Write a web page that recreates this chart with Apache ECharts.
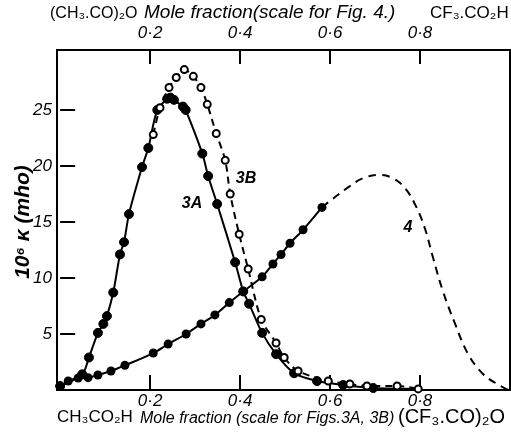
<!DOCTYPE html>
<html>
<head>
<meta charset="utf-8">
<script src="https://cdn.jsdelivr.net/npm/echarts@6/dist/echarts.min.js"></script>
<style>
html, body { margin: 0; padding: 0; background: #fff; }
#chart { width: 511px; height: 432px; }
</style>
</head>
<body>
<div id="chart"></div>
<script>
// mole fraction ticks and conductivity ticks
var xTicks = [0.2, 0.4, 0.6, 0.8];
var yTicks = [5, 10, 15, 20, 25];

// curve 3A (filled dots, solid line)
var x3A = [0.0, 0.049, 0.064, 0.084, 0.096, 0.104, 0.118, 0.133, 0.142, 0.153, 0.182, 0.196, 0.216, 0.238, 0.245, 0.253, 0.273, 0.279, 0.316, 0.329, 0.349, 0.389, 0.407, 0.42, 0.449, 0.48, 0.52, 0.571, 0.629, 0.696];
var y3A = [0.35, 1.4, 2.9, 5.1, 5.9, 6.6, 8.7, 12.1, 13.2, 15.7, 19.9, 21.6, 25.0, 26.0, 26.1, 25.9, 25.3, 25.0, 21.1, 19.1, 16.6, 11.4, 8.8, 7.7, 5.1, 3.2, 1.5, 0.8, 0.45, 0.18];
var end3A = [0.8, 0.1];

// curve 3B (open circles, dashed line)
var x3B = [0.207, 0.222, 0.242, 0.258, 0.276, 0.296, 0.313, 0.327, 0.347, 0.367, 0.378, 0.398, 0.418, 0.447, 0.48, 0.498, 0.529, 0.596, 0.644, 0.682, 0.749, 0.796];
var y3B = [22.8, 25.2, 27.0, 27.9, 28.6, 28.0, 27.0, 25.5, 22.9, 20.5, 17.5, 13.9, 10.8, 6.3, 4.2, 2.9, 1.7, 0.8, 0.54, 0.36, 0.36, 0.1];

// curve 4 measured part (filled dots)
var x4 = [0.0, 0.018, 0.04, 0.062, 0.084, 0.113, 0.144, 0.207, 0.24, 0.28, 0.313, 0.344, 0.376, 0.407, 0.449, 0.473, 0.491, 0.511, 0.54, 0.582];
var y4 = [0.35, 0.8, 1.07, 1.1, 1.34, 1.7, 2.2, 3.3, 4.1, 5.0, 5.9, 6.7, 7.8, 8.8, 10.1, 11.25, 12.1, 13.1, 14.3, 16.3];

// curve 4 dashed continuation
var x4d = [0.582, 0.607, 0.644, 0.673, 0.709, 0.74, 0.767, 0.791, 0.811, 0.829, 0.851, 0.878, 0.907, 0.94, 0.971, 0.996];
var y4d = [16.3, 17.1, 18.2, 18.9, 19.2, 18.9, 18.0, 16.4, 14.4, 11.8, 8.8, 5.9, 3.2, 1.43, 0.54, 0.0];

function pairs(xs, ys) {
    return xs.map(function (x, i) { return [x, ys[i]]; });
}

var data3A = pairs(x3A, y3A);
data3A.push({ value: end3A, symbol: 'none' });

var myChart = echarts.init(document.getElementById('chart'));

var italic = 'Liberation Sans';
var tickLabel = {
    customValues: xTicks,
    fontFamily: italic,
    fontStyle: 'italic',
    fontSize: 17,
    color: '#000',
    formatter: function (v) { return String(v).replace('.', '·'); }
};

var option = {
    animation: false,
    backgroundColor: '#fff',
    grid: {
        left: 57, right: 1, top: 50, bottom: 42,
        show: true, borderColor: '#000', borderWidth: 2,
        outerBoundsMode: 'none'
    },
    xAxis: [{
        type: 'value', position: 'bottom', min: -0.007, max: 1.0,
        splitLine: { show: false },
        axisLine: { show: false },
        axisTick: { customValues: xTicks, inside: true, length: 15, lineStyle: { color: '#000', width: 2 } },
        axisLabel: Object.assign({ margin: 3 }, tickLabel)
    }, {
        type: 'value', position: 'top', min: -0.007, max: 1.0,
        splitLine: { show: false },
        axisLine: { show: false },
        axisTick: { customValues: xTicks, inside: true, length: 14, lineStyle: { color: '#000', width: 2 } },
        axisLabel: Object.assign({ margin: 8 }, tickLabel)
    }],
    yAxis: {
        type: 'value', min: 0, max: 30.35,
        splitLine: { show: false },
        axisLine: { show: false },
        axisTick: { customValues: yTicks, inside: true, length: 15, lineStyle: { color: '#000', width: 2 } },
        axisLabel: {
            customValues: yTicks, margin: 5,
            fontFamily: italic, fontStyle: 'italic', fontSize: 17, color: '#000'
        }
    },
    series: [{
        name: '3A', type: 'line', data: data3A, smooth: 0.3,
        symbol: 'circle', symbolSize: 9,
        lineStyle: { color: '#000', width: 2 },
        itemStyle: { color: '#000', borderColor: '#000' }
    }, {
        name: '3B', type: 'line', data: pairs(x3B, y3B), smooth: 0.3,
        symbol: 'circle', symbolSize: 7,
        lineStyle: { color: '#000', width: 2, type: [7, 5] },
        itemStyle: { color: '#fff', borderColor: '#000', borderWidth: 2 }
    }, {
        name: '4', type: 'line', data: pairs(x4, y4), smooth: 0.3,
        symbol: 'circle', symbolSize: 9,
        lineStyle: { color: '#000', width: 2 },
        itemStyle: { color: '#000' }
    }, {
        name: '4 dashed', type: 'line', data: pairs(x4d, y4d), smooth: 0.4,
        symbol: 'none',
        lineStyle: { color: '#000', width: 2, type: [8, 6] }
    }],
    graphic: [
        { type: 'text', left: 50, top: 6, style: { text: '(CH₃.CO)₂O', font: '16px "Liberation Sans"', fill: '#000' } },
        { type: 'text', left: 144, top: 3, style: { text: 'Mole fraction(scale for Fig. 4.)', font: 'italic 19px "Liberation Sans"', fill: '#000' } },
        { type: 'text', left: 430, top: 5, style: { text: 'CF₃.CO₂H', font: '17px "Liberation Sans"', fill: '#000' } },
        { type: 'text', left: 57, top: 409, style: { text: 'CH₃CO₂H', font: '17px "Liberation Sans"', fill: '#000' } },
        { type: 'text', left: 140, top: 411, style: { text: 'Mole fraction (scale for Figs.3A, 3B)', font: 'italic 16px "Liberation Sans"', fill: '#000' } },
        { type: 'text', left: 398, top: 407, style: { text: '(CF₃.CO)₂O', font: '20px "Liberation Sans"', fill: '#000' } },
        { type: 'text', x: 23, y: 222, rotation: Math.PI / 2, style: { text: '10⁶ κ (mho)', font: 'italic bold 21px "Liberation Sans"', fill: '#000', align: 'center', verticalAlign: 'middle' } },
        { type: 'text', x: 192, y: 204, style: { text: '3A', font: 'italic bold 16px "Liberation Sans"', fill: '#000', align: 'center', verticalAlign: 'middle' } },
        { type: 'text', x: 246, y: 179, style: { text: '3B', font: 'italic bold 16px "Liberation Sans"', fill: '#000', align: 'center', verticalAlign: 'middle' } },
        { type: 'text', x: 408, y: 228, style: { text: '4', font: 'italic bold 16px "Liberation Sans"', fill: '#000', align: 'center', verticalAlign: 'middle' } }
    ]
};

myChart.setOption(option);
</script>
</body>
</html>
